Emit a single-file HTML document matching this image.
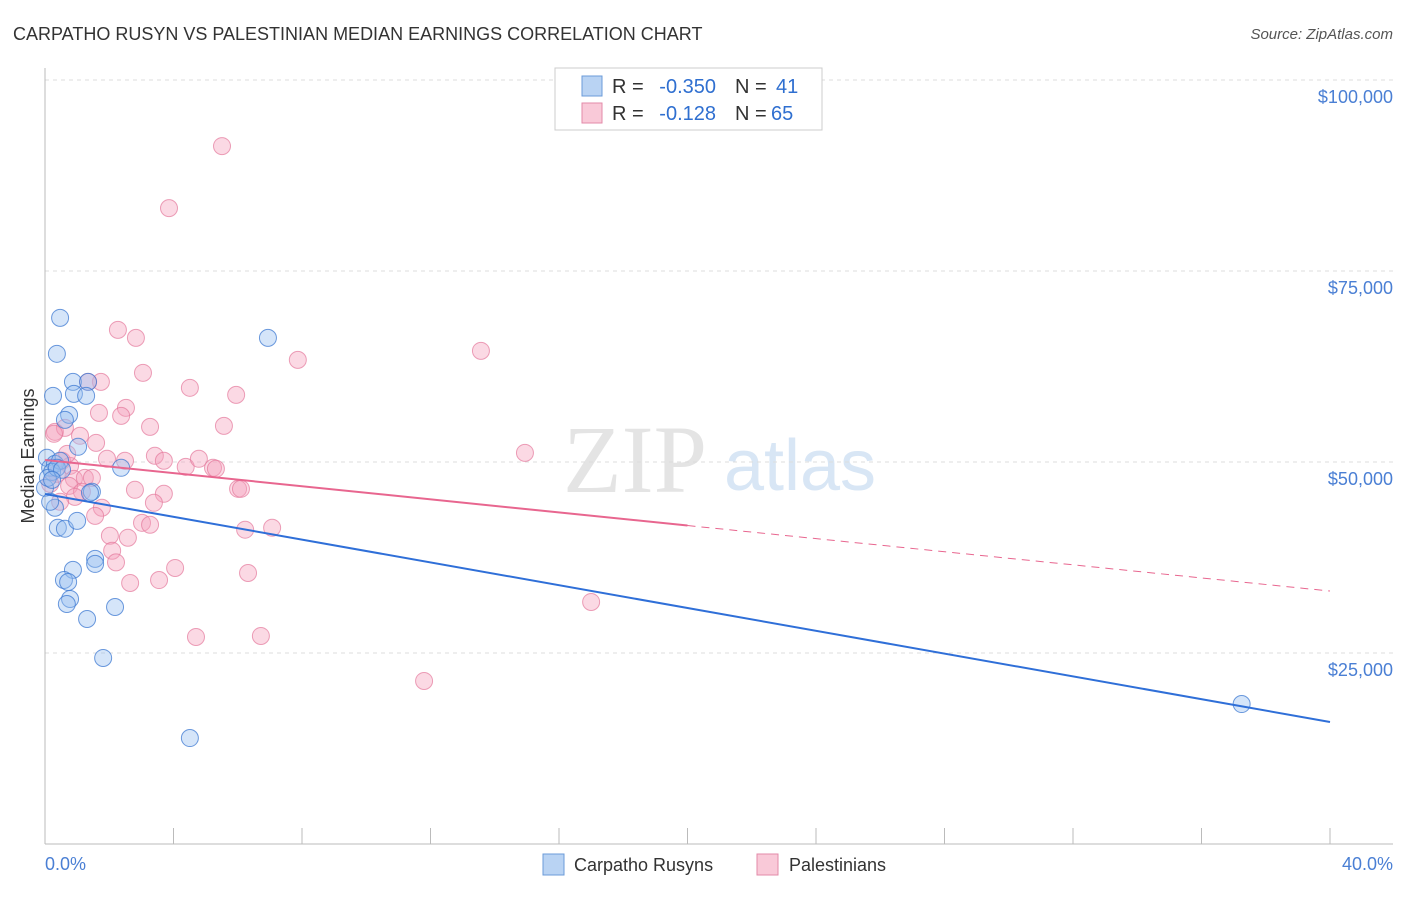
<!DOCTYPE html>
<html><head><meta charset="utf-8"><style>
body{margin:0;background:#fff;font-family:"Liberation Sans",sans-serif}
</style></head><body>
<svg id="c" width="1406" height="892" xmlns="http://www.w3.org/2000/svg" font-family="Liberation Sans, sans-serif">
<text x="13" y="40" font-size="18" fill="#333">CARPATHO RUSYN VS PALESTINIAN MEDIAN EARNINGS CORRELATION CHART</text>
<text x="1393" y="39" font-size="15" fill="#555" text-anchor="end" font-style="italic">Source: ZipAtlas.com</text>
<text x="635" y="492" font-size="96" fill="#e4e4e4" text-anchor="middle" font-family="Liberation Serif, serif">ZIP</text>
<text x="800" y="490" font-size="72" fill="#d8e6f5" text-anchor="middle">atlas</text>
<g id="grid"></g><g id="axes"></g><g id="marks"></g>
<text x="34" y="456" font-size="18" fill="#333" text-anchor="middle" transform="rotate(-90 34 456)">Median Earnings</text>
<text x="45" y="870" font-size="18" fill="#4a7fd4">0.0%</text>
<text x="1393" y="870" font-size="18" fill="#4a7fd4" text-anchor="end">40.0%</text>
<g font-size="20">
<rect x="555" y="68" width="267" height="62" fill="#fff" stroke="#ccc"/>
<rect x="582" y="76" width="20" height="20" fill="#b9d3f3" stroke="#6b9bd8"/>
<rect x="582" y="103" width="20" height="20" fill="#f9c9d8" stroke="#e38aa8"/>
<text x="612" y="93" fill="#333">R =</text>
<text x="716" y="93" fill="#2f6fd0" text-anchor="end">-0.350</text>
<text x="735" y="93" fill="#333">N =</text>
<text x="776" y="93" fill="#2f6fd0">41</text>
<text x="612" y="120" fill="#333">R =</text>
<text x="716" y="120" fill="#2f6fd0" text-anchor="end">-0.128</text>
<text x="735" y="120" fill="#333">N =</text>
<text x="771" y="120" fill="#2f6fd0">65</text>
</g>
<g>
<rect x="543" y="854" width="21" height="21" fill="#b9d3f3" stroke="#6b9bd8"/>
<text x="574" y="871" font-size="18" fill="#333">Carpatho Rusyns</text>
<rect x="757" y="854" width="21" height="21" fill="#f9c9d8" stroke="#e38aa8"/>
<text x="789" y="871" font-size="18" fill="#333">Palestinians</text>
</g>
</svg>
<script>
const yTicks=[25000,50000,75000,100000];
const yTickLabels=["$25,000","$50,000","$75,000","$100,000"];
const xTicks=[0,4,8,12,16,20,24,28,32,36,40];
const blueX=[0.47,0.37,0.25,0.87,1.34,0.9,1.28,0.75,0.62,1.03,0.06,0.16,0.31,0.47,0.22,0,2.37,1.46,0.31,0.4,0.62,1.0,0.87,1.56,1.56,0.59,0.72,0.78,0.68,1.31,2.18,1.81,4.51,6.94,37.25,0.09,0.37,0.53,0.16,0.22,1.4];
const blueY=[68870,64160,58660,60490,60490,58920,58660,56170,55520,51990,50550,49240,49760,50160,48710,46620,49240,46100,44010,41400,41270,42300,35880,37320,36660,34560,34290,32070,31410,29450,31020,24350,13870,66250,18320,47930,49240,48980,44790,47660,45970];
const pinkX=[5.51,3.86,2.27,2.83,7.87,13.57,3.05,4.51,1.74,1.34,5.95,2.52,1.68,2.37,3.27,5.57,0.31,0.62,1.09,1.59,1.93,2.49,3.42,3.7,4.38,4.79,5.23,5.32,14.94,0.53,0.78,0.37,0.9,1.24,1.46,0.16,0.75,1.15,2.8,3.7,6.01,6.1,0.93,1.77,3.39,1.56,3.02,3.27,2.02,2.58,2.09,6.23,7.07,2.21,4.05,6.32,2.65,3.55,17.0,4.7,6.72,11.8,0.47,0.28,0.69];
const pinkY=[91350,83230,67300,66250,63370,64550,61670,59710,60490,60490,58790,57090,56430,56040,54600,54730,53950,54470,53430,52510,50420,50160,50810,50160,49370,50420,49240,49110,51200,50160,49500,48450,47790,47920,47920,47140,46880,46100,46360,45840,46490,46490,45440,44010,44660,42950,42040,41790,40350,40090,38390,41140,41400,36860,36130,35470,34160,34550,31680,27100,27230,21340,44790,53690,51070];
const svg=document.getElementById('c'),NS='http://www.w3.org/2000/svg';
const X0=45,X1=1330,Y0=844,PY=191/25000;
const sx=v=>X0+(v/40)*(X1-X0), sy=v=>Y0-v*PY;
function mk(t,a,p){const e=document.createElementNS(NS,t);for(const k in a)e.setAttribute(k,a[k]);p.appendChild(e);return e;}
const g=document.getElementById('grid'),ax=document.getElementById('axes'),m=document.getElementById('marks');
yTicks.forEach((v,i)=>{
 const l=mk('line',{x1:X0,x2:1393,y1:sy(v),y2:sy(v),stroke:'#ddd','stroke-dasharray':'4,4'},g);
 
 
 const t=mk('text',{x:1393,y:sy(v)+23,'font-size':18,fill:'#4a7fd4','text-anchor':'end'},g);
 t.textContent=yTickLabels[i];
 
 
});
const la=mk('line',{x1:X0,x2:X0,y1:68,y2:Y0,stroke:'#bbb'},ax);


const ba=mk('line',{x1:X0,x2:1393,y1:Y0,y2:Y0,stroke:'#bbb'},ax);


xTicks.forEach(v=>{const t=mk('line',{x1:sx(v),x2:sx(v),y1:828,y2:Y0,stroke:'#bbb'},ax);
 
 });
pinkX.forEach((x,i)=>{const c=mk('circle',{cx:sx(x),cy:sy(pinkY[i]),r:8.5,fill:'rgba(244,160,188,0.4)',stroke:'rgba(228,120,155,0.7)','stroke-width':1},m);
 
 });
blueX.forEach((x,i)=>{const c=mk('circle',{cx:sx(x),cy:sy(blueY[i]),r:8.5,fill:'rgba(150,190,240,0.4)',stroke:'rgba(60,120,210,0.75)','stroke-width':1},m);
 
 });
const bA=45810,bB=15970,pA=50260,pB=33110;
const bl=mk('line',{x1:sx(0),y1:sy(bA),x2:sx(40),y2:sy(bB),stroke:'#2f6fd8','stroke-width':2},m);


const pm=pA+(pB-pA)*0.5;
const pl=mk('line',{x1:sx(0),y1:sy(pA),x2:sx(20),y2:sy(pm),stroke:'#e8668f','stroke-width':2},m);


const pd=mk('line',{x1:sx(20),y1:sy(pm),x2:sx(40),y2:sy(pB),stroke:'#e8668f','stroke-width':1,'stroke-dasharray':'8,6'},m);


</script>
</body></html>
